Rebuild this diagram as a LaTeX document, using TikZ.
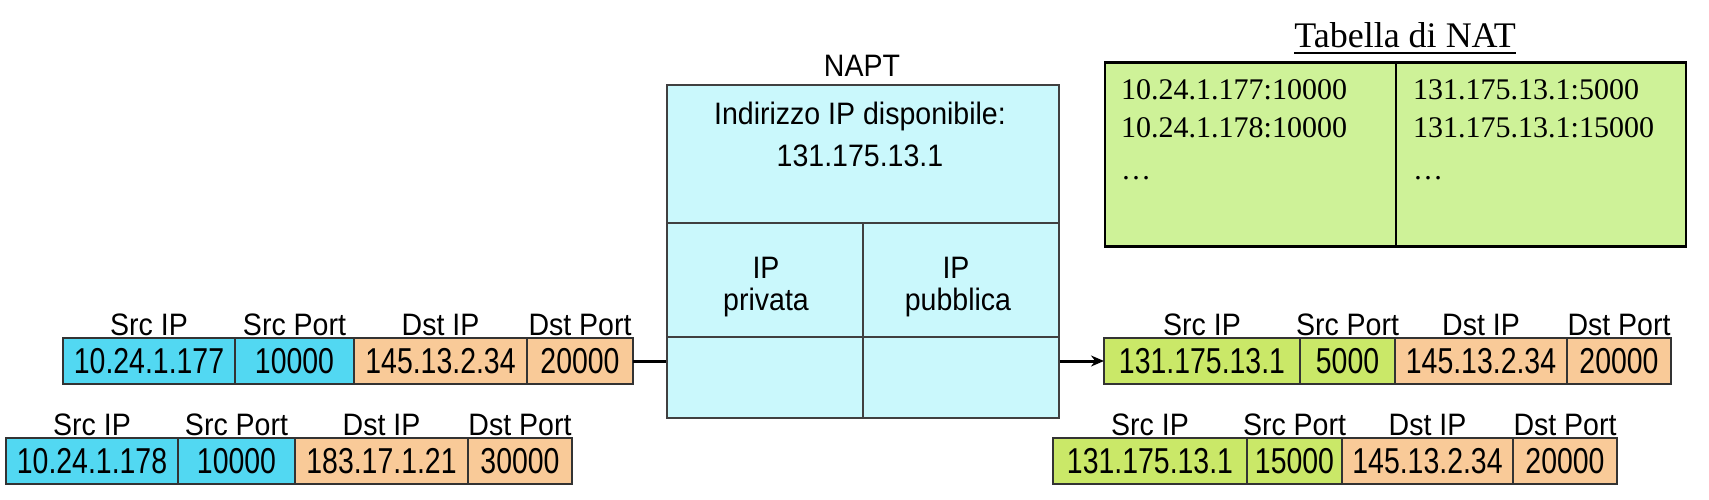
\documentclass[tikz,border=0pt]{standalone}
\usepackage{fontspec}
\setmainfont{Liberation Serif}
\newfontfamily\cellfont[FakeStretch=0.79]{Liberation Sans}
\newfontfamily\headfont[FakeStretch=0.92]{Liberation Sans}
\usepackage{tikz}
\usetikzlibrary{arrows.meta, positioning}
\definecolor{privcyan}{RGB}{82,216,242}
\definecolor{pubgreen}{RGB}{202,232,104}
\definecolor{dstpeach}{RGB}{249,202,152}
\definecolor{naptfill}{RGB}{202,248,252}
\definecolor{natfill}{RGB}{206,242,152}
\tikzset{
	cell/.style = {draw=black!80, line width=1.2pt, minimum height=46pt, inner sep=0pt, outer sep=0pt, anchor=west, font=\cellfont\fontsize{36}{36}\selectfont},
	priv/.style = {cell, fill=privcyan},
	pub/.style = {cell, fill=pubgreen},
	dst/.style = {cell, fill=dstpeach},
	every label/.style = {font=\headfont\fontsize{31}{31}\selectfont, label distance=-1pt},
	napttext/.style = {anchor=base, inner sep=0pt, font=\headfont\fontsize{31}{31}\selectfont},
	nattext/.style = {anchor=base west, inner sep=0pt, font=\fontsize{30}{30}\selectfont},
	nline/.style = {draw=black!75, line width=1.3pt},
}

\begin{document}
\begin{tikzpicture}[x=1pt, y=-1pt, node distance=0pt]
	\useasboundingbox (0,0) rectangle (1709,500);

	% incoming packets (private side)
	\node[priv, minimum width=172pt, label=above:{Src IP}] (l1sip) at (63,361) {10.24.1.177};
	\node[priv, minimum width=119pt, label=above:{Src Port}, right=of l1sip] (l1sport) {10000};
	\node[dst, minimum width=173pt, label=above:{Dst IP}, right=of l1sport] (l1dip) {145.13.2.34};
	\node[dst, minimum width=106pt, label=above:{Dst Port}, right=of l1dip] (l1dport) {20000};

	\node[priv, minimum width=172pt, label=above:{Src IP}] (l2sip) at (6,461) {10.24.1.178};
	\node[priv, minimum width=117pt, label=above:{Src Port}, right=of l2sip] (l2sport) {10000};
	\node[dst, minimum width=173pt, label=above:{Dst IP}, right=of l2sport] (l2dip) {183.17.1.21};
	\node[dst, minimum width=104pt, label=above:{Dst Port}, right=of l2dip] (l2dport) {30000};

	% NAPT box
	\node[nline, fill=naptfill, minimum width=392pt, minimum height=333pt, inner sep=0pt] (napt) at (863,251.5) {};
	\node[napttext] (naptname) at (862,77) {NAPT};
	\draw[nline] (napt.west |- 0,223) -- (napt.east |- 0,223);
	\draw[nline] (napt.west |- 0,337) -- (napt.east |- 0,337);
	\draw[nline] (napt.south |- 0,223) -- (napt.south);
	\node[napttext] (avail) at (860,125) {Indirizzo IP disponibile:};
	\node[napttext] (availip) at (860,167) {131.175.13.1};
	\node[napttext] (privip) at (766,278) {IP};
	\node[napttext] (privtxt) at (766,310) {privata};
	\node[napttext] (pubip) at (956,278) {IP};
	\node[napttext] (pubtxt) at (958,310) {pubblica};

	% outgoing packets (public side)
	\node[pub, minimum width=196pt, label=above:{Src IP}] (r1sip) at (1104,361) {131.175.13.1};
	\node[pub, minimum width=95pt, label=above:{Src Port}, right=of r1sip] (r1sport) {5000};
	\node[dst, minimum width=172pt, label=above:{Dst IP}, right=of r1sport] (r1dip) {145.13.2.34};
	\node[dst, minimum width=104pt, label=above:{Dst Port}, right=of r1dip] (r1dport) {20000};

	\node[pub, minimum width=194pt, label=above:{Src IP}] (r2sip) at (1053,461) {131.175.13.1};
	\node[pub, minimum width=95pt, label=above:{Src Port}, right=of r2sip] (r2sport) {15000};
	\node[dst, minimum width=171pt, label=above:{Dst IP}, right=of r2sport] (r2dip) {145.13.2.34};
	\node[dst, minimum width=104pt, label=above:{Dst Port}, right=of r2dip] (r2dport) {20000};

	% connectors
	\draw[line width=3pt] (l1dport.east) -- (l1dport.east -| napt.west);
	\draw[line width=3pt, arrows={-Stealth[length=13pt, width=11pt]}] (napt.east |- r1sip.west) -- (r1sip.west);

	% NAT table
	\node[anchor=base, inner sep=0pt, font=\fontsize{36}{36}\selectfont] (nattitle) at (1405,48) {Tabella di NAT};
	\draw[line width=1.3pt] ([yshift=-5pt]nattitle.base west) -- ([yshift=-5pt]nattitle.base east);
	\node[draw=black, line width=2.5pt, fill=natfill, minimum width=581pt, minimum height=184pt, inner sep=0pt] (nat) at (1395.5,154.5) {};
	\draw[line width=2pt] (nat.north) -- (nat.south);
	\node[nattext] (natp1) at (1121,100) {10.24.1.177:10000};
	\node[nattext] (natp2) at (1121,138) {10.24.1.178:10000};
	\node[nattext] (natp3) at (1121,180) {…};
	\node[nattext] (natq1) at (1413,100) {131.175.13.1:5000};
	\node[nattext] (natq2) at (1413,138) {131.175.13.1:15000};
	\node[nattext] (natq3) at (1413,180) {…};
\end{tikzpicture}
\end{document}
